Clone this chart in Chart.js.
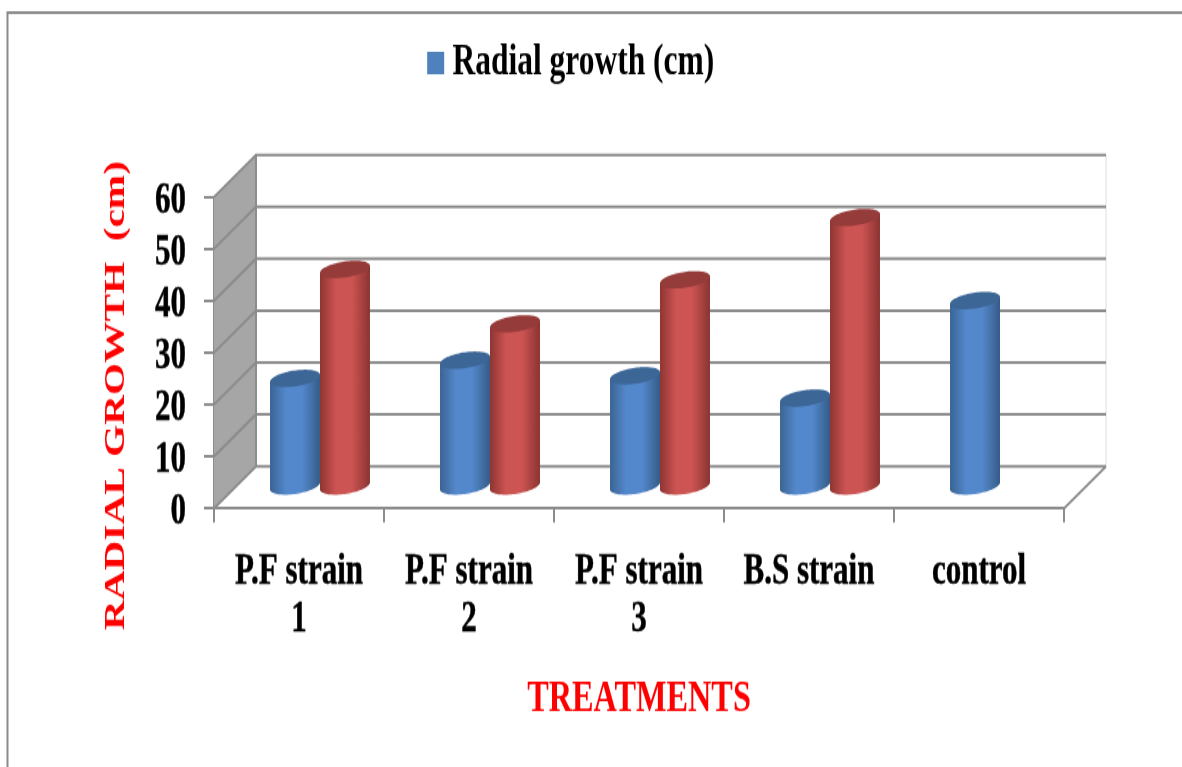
<!DOCTYPE html>
<html>
<head>
<meta charset="utf-8">
<title>Radial growth</title>
<script src="https://cdn.jsdelivr.net/npm/chart.js@4"></script>
<style>
    html, body { margin: 0; padding: 0; background: #fff; overflow: hidden; height: 767px; }
    /* the source picture is a squashed, slightly soft chart stretched to full height */
    #chart { display: block; width: 1182px; height: 767px; filter: blur(0.4px); }
</style>
</head>
<body>
<canvas id="chart" width="1182" height="548" style="width:1182px;height:767px"></canvas>
<script>
const categories = [['P.F strain', '1'], ['P.F strain', '2'], ['P.F strain', '3'], 'B.S strain', 'control'];
const blueValues = [21, 24.5, 21.5, 17.2, 36];
const redValues = [42, 31.5, 40, 52, null];
const legendLabel = 'Radial growth (cm)';
const yTitle = 'RADIAL GROWTH  (cm)';
const xTitle = 'TREATMENTS';

const serif = 'Liberation Serif';
const gridColor = '#8c8c8c';
const wallColor = '#a6a6a6';

// depth of the fake 3d box, canvas pixels
const depthX = 42;
const depthY = 30;

const blueShades = { edge: '#3a6594', light: '#5488cc', edge2: '#355c88', cap: '#3b6696' };
const redShades = { edge: '#8e3533', light: '#cc5452', edge2: '#8a3432', cap: '#953b3a' };


function ring(cx, cy, r, t) {
    // top of the cylinder tilts up to the right
    return [cx + r * Math.cos(t), cy + 5.7 * Math.sin(t) - 2.5 * Math.cos(t)];
}


function drawCylinder(ctx, bar, shades) {
    const cx = bar.x + depthX / 2;
    const top = bar.y - depthY / 2;
    const bottom = bar.base - depthY / 2;
    const r = bar.width / 2;

    const grad = ctx.createLinearGradient(cx - r, 0, cx + r, 0);
    grad.addColorStop(0, shades.edge);
    grad.addColorStop(0.32, shades.light);
    grad.addColorStop(0.64, shades.light);
    grad.addColorStop(1, shades.edge2);

    ctx.beginPath();
    ctx.moveTo(...ring(cx, top, r, Math.PI));
    for (let i = 0; i <= 40; i++) {
        ctx.lineTo(...ring(cx, bottom, r, Math.PI - Math.PI * i / 40));
    }
    ctx.lineTo(...ring(cx, top, r, 0));
    ctx.closePath();
    ctx.fillStyle = grad;
    ctx.fill();

    ctx.beginPath();
    for (let i = 0; i <= 80; i++) {
        ctx.lineTo(...ring(cx, top, r, Math.PI * 2 * i / 80));
    }
    ctx.closePath();
    ctx.fillStyle = shades.cap;
    ctx.fill();
}


const box3d = {
    id: 'box3d',

    afterLayout(chart) {
        // legend and axis title do not sit where the layout wants them
        const legend = chart.legend;
        legend.top -= 70;
        legend.bottom -= 70;
        legend.left -= 6.5;
        legend.right -= 6.5;
        chart.titleBlock.top -= 36;
        chart.titleBlock.bottom -= 36;
    },

    beforeDraw(chart) {
        const ctx = chart.ctx;
        ctx.save();
        ctx.strokeStyle = '#8a8a8a';
        ctx.lineWidth = 2;
        ctx.beginPath();
        ctx.moveTo(7.5, 548);
        ctx.lineTo(7.5, 9);
        ctx.lineTo(1182, 9);
        ctx.stroke();
        ctx.restore();
    },

    beforeDatasetsDraw(chart) {
        const ctx = chart.ctx;
        const { left, right } = chart.chartArea;
        const y = chart.scales.y;
        const y0 = y.getPixelForValue(0);
        const yMax = y.getPixelForValue(y.max);

        ctx.save();

        // left wall
        ctx.fillStyle = wallColor;
        ctx.beginPath();
        ctx.moveTo(left, y0);
        ctx.lineTo(left, yMax);
        ctx.lineTo(left + depthX, yMax - depthY);
        ctx.lineTo(left + depthX, y0 - depthY);
        ctx.closePath();
        ctx.fill();

        // right edge of the back wall
        ctx.strokeStyle = '#dedede';
        ctx.lineWidth = 1;
        ctx.beginPath();
        ctx.moveTo(right + depthX, yMax - depthY);
        ctx.lineTo(right + depthX, y0 - depthY);
        ctx.stroke();

        ctx.strokeStyle = gridColor;
        ctx.lineWidth = 2;
        y.ticks.forEach((tick) => {
            const py = y.getPixelForValue(tick.value);
            ctx.beginPath();
            ctx.moveTo(left, py);
            ctx.lineTo(left + depthX, py - depthY);
            ctx.lineTo(right + depthX, py - depthY);
            ctx.stroke();
        });

        // floor edge on the right
        ctx.beginPath();
        ctx.moveTo(right, y0);
        ctx.lineTo(right + depthX, y0 - depthY);
        ctx.stroke();

        // left wall outline
        ctx.beginPath();
        ctx.moveTo(left + depthX, yMax - depthY);
        ctx.lineTo(left + depthX, y0 - depthY);
        ctx.stroke();

        const blueBars = chart.getDatasetMeta(0).data;
        const redBars = chart.getDatasetMeta(1).data;
        categories.forEach((_, i) => {
            if (blueValues[i] !== null) drawCylinder(ctx, blueBars[i], blueShades);
            if (redValues[i] !== null) drawCylinder(ctx, redBars[i], redShades);
        });

        ctx.restore();
        return false;
    }
};


new Chart(document.getElementById('chart'), {
    type: 'bar',
    data: {
        labels: categories,
        datasets: [
            // thick border keeps the legend swatch big with a small gap to its text
            { label: legendLabel, data: blueValues, backgroundColor: '#4f81bd', borderColor: '#4f81bd', borderWidth: 15 },
            { label: 'Series 2', data: redValues, backgroundColor: '#c0504d', borderWidth: 0 }
        ]
    },
    options: {
        responsive: false,
        animation: false,
        barPercentage: 1,
        categoryPercentage: 0.588,
        layout: { padding: { left: 98, right: 118, top: 89.2, bottom: 0 } },
        plugins: {
            tooltip: { enabled: false },
            legend: {
                position: 'top',
                labels: {
                    filter: (item) => item.datasetIndex === 0,
                    boxWidth: 2,
                    boxHeight: 1,
                    padding: 10,
                    color: '#000',
                    font: { family: serif, weight: 'bold', size: 31.5 }
                }
            },
            title: {
                display: true,
                position: 'left',
                text: yTitle,
                color: '#ff0000',
                padding: 0,
                font: { family: serif, weight: 'bold', size: 29.5, lineHeight: 1.22 }
            }
        },
        scales: {
            x: {
                afterFit: (scale) => { scale.height = 184.8 },
                border: { color: gridColor, width: 2 },
                grid: { drawOnChartArea: false, color: gridColor, lineWidth: 2, tickLength: 10 },
                ticks: {
                    color: '#000',
                    textStrokeColor: '#000',
                    textStrokeWidth: 0.4,
                    padding: 19,
                    maxRotation: 0,
                    autoSkip: false,
                    font: { family: serif, weight: 'bold', size: 31, lineHeight: 1.1 }
                },
                title: {
                    display: true,
                    text: xTitle,
                    color: '#ff0000',
                    padding: { top: 0, bottom: 28.5 },
                    font: { family: serif, weight: 'bold', size: 32.3 }
                }
            },
            y: {
                min: 0,
                max: 60,
                afterFit: (scale) => { scale.width = 80 },
                border: { color: gridColor, width: 2 },
                grid: { drawOnChartArea: false, color: gridColor, lineWidth: 2, tickLength: 10 },
                ticks: {
                    stepSize: 10,
                    autoSkip: false,
                    labelOffset: 3,
                    color: '#000',
                    textStrokeColor: '#000',
                    textStrokeWidth: 0.4,
                    padding: 18,
                    font: { family: serif, weight: 'bold', size: 31 }
                }
            }
        }
    },
    plugins: [box3d]
});
</script>
</body>
</html>
